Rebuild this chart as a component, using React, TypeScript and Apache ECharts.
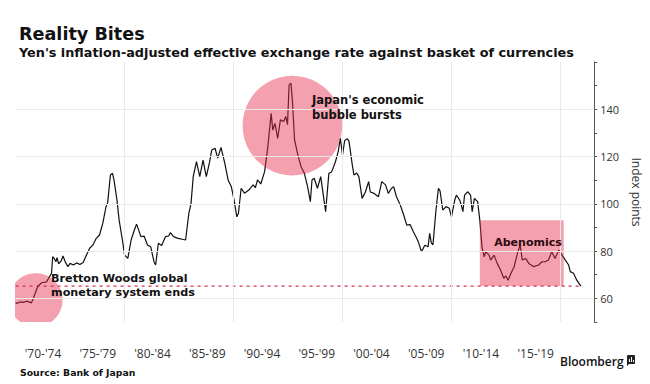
import React, { useEffect, useRef } from "react";
import * as echarts from "echarts";

// ---- Data ----
const years: number[] = [
  1970.0, 1970.15, 1970.4, 1970.7, 1971.0, 1971.15, 1971.45, 1971.6, 1971.85, 1972.05,
  1972.4, 1972.85, 1973.1, 1973.3, 1973.4, 1973.55, 1973.7, 1973.8, 1973.95, 1974.2,
  1974.35, 1974.6, 1974.8, 1975.0, 1975.3, 1975.6, 1975.9, 1976.2, 1976.5, 1976.8,
  1977.1, 1977.4, 1977.7, 1978.0, 1978.3, 1978.45, 1978.7, 1978.9, 1979.05, 1979.3,
  1979.5, 1979.8, 1980.0, 1980.3, 1980.6, 1980.9, 1981.1, 1981.4, 1981.5, 1981.8,
  1982.1, 1982.4, 1982.7, 1982.85, 1983.1, 1983.4, 1983.75, 1984.05, 1984.2, 1984.5,
  1984.9, 1985.3, 1985.6, 1985.9, 1986.1, 1986.3, 1986.6, 1986.9, 1987.2, 1987.5,
  1987.8, 1988.0, 1988.3, 1988.55, 1988.85, 1989.2, 1989.5, 1989.8, 1990.05, 1990.3,
  1990.45, 1990.7, 1991.0, 1991.4, 1991.8, 1992.0, 1992.2, 1992.5, 1992.85, 1993.15,
  1993.45, 1993.6, 1993.8, 1994.05, 1994.3, 1994.6, 1994.8, 1994.95, 1995.1, 1995.27,
  1995.4, 1995.6, 1995.9, 1996.2, 1996.5, 1996.8, 1997.05, 1997.2, 1997.4, 1997.7,
  1998.0, 1998.45, 1998.75, 1999.0, 1999.35, 1999.6, 1999.8, 2000.0, 2000.2, 2000.45,
  2000.6, 2000.9, 2001.05, 2001.3, 2001.5, 2001.8, 2002.1, 2002.4, 2002.55, 2002.9,
  2003.3, 2003.6, 2003.95, 2004.2, 2004.5, 2004.7, 2004.95, 2005.3, 2005.6, 2005.9,
  2006.2, 2006.5, 2006.8, 2006.95, 2007.25, 2007.55, 2007.85, 2008.0, 2008.15, 2008.3,
  2008.55, 2008.8, 2008.95, 2009.2, 2009.5, 2009.8, 2010.0, 2010.3, 2010.45, 2010.75,
  2010.9, 2011.05, 2011.2, 2011.5, 2011.75, 2011.9, 2012.1, 2012.4, 2012.6, 2012.8,
  2013.0, 2013.15, 2013.45, 2013.6, 2013.9, 2014.2, 2014.5, 2014.8, 2015.0, 2015.2,
  2015.4, 2015.75, 2016.05, 2016.3, 2016.5, 2016.8, 2017.1, 2017.55, 2018.0, 2018.3,
  2018.6, 2018.9, 2019.2, 2019.5, 2019.85, 2020.15, 2020.45, 2020.75, 2020.9, 2021.2,
  2021.5, 2021.8, 2021.9,
];

const indexValues: number[] = [
  58.2, 57.9, 58.5, 58.3, 58.8, 58.6, 58.1, 59.6, 62.8, 65.2,
  66.6, 67.0, 69.1, 70.6, 77.6, 76.8, 75.5, 77.2, 74.6, 76.0,
  77.9, 75.0, 73.4, 74.8, 74.1, 75.0, 74.3, 75.2, 78.3, 81.2,
  82.6, 85.4, 86.8, 91.7, 98.8, 100.5, 112.2, 112.9, 109.5, 101.6,
  93.1, 84.7, 78.3, 76.9, 84.7, 88.9, 91.4, 87.5, 86.1, 86.3,
  82.6, 81.8, 75.5, 74.1, 83.3, 82.4, 86.1, 86.4, 87.8, 86.1,
  85.4, 85.0, 84.7, 96.0, 100.2, 111.5, 117.8, 111.5, 118.5, 111.5,
  117.6, 122.8, 123.5, 119.3, 123.9, 117.1, 110.1, 107.2, 101.6, 94.5,
  96.0, 106.6, 104.5, 105.8, 108.0, 106.8, 110.1, 108.4, 113.6, 124.2,
  138.3, 131.2, 134.0, 127.7, 135.5, 134.8, 136.9, 133.5, 150.3, 151.0,
  143.9, 127.0, 120.7, 115.7, 112.9, 107.2, 100.9, 110.1, 110.8, 106.6,
  111.5, 96.7, 112.9, 113.5, 117.8, 122.0, 127.7, 120.7, 126.8, 127.5,
  126.3, 116.4, 112.2, 113.0, 111.5, 102.3, 105.0, 109.4, 105.0, 104.4,
  103.0, 109.4, 108.0, 104.4, 106.6, 107.2, 103.0, 99.5, 95.5, 91.0,
  91.2, 88.2, 85.5, 84.0, 79.7, 82.5, 81.8, 87.5, 83.5, 82.6,
  96.0, 106.6, 105.5, 97.4, 98.8, 98.1, 94.5, 101.6, 103.7, 101.6,
  99.5, 96.7, 103.7, 105.1, 103.7, 96.7, 102.3, 100.9, 93.1, 81.8,
  77.6, 79.7, 78.3, 76.2, 78.3, 74.8, 72.0, 68.5, 69.5, 67.7,
  70.0, 73.4, 79.0, 82.6, 76.2, 76.9, 74.8, 73.4, 74.1, 75.5,
  75.5, 76.2, 79.7, 76.9, 80.4, 78.3, 76.2, 74.1, 71.3, 70.6,
  67.7, 65.6, 65.2,
];

const periodLabels: string[] = [
  "'70-'74", "'75-'79", "'80-'84", "'85-'89", "'90-'94",
  "'95-'99", "'00-'04", "'05-'09", "'10-'14", "'15-'19",
];

const yTickLabels: number[] = [60, 80, 100, 120, 140];
const decadeLines: number[] = [1980, 1990, 2000, 2010, 2020];

// Bretton Woods reference level (dashed line)
const referenceYears: number[] = [1970, 2021.9];
const referenceLevel: number[] = [65.2, 65.2];

// Highlight circles: [center year, center value, radius in years]
const circleCenters: number[][] = [
  [1971.85, 59.3, 2.46],
  [1995.4, 133.1, 4.57],
];

// Abenomics box: [start year, top value, end year, bottom value]
const abenomicsBox: number[][] = [[2012.6, 93.1, 2020.3, 65.2]];

const X_MIN = 1970;
const X_MAX = 2023.1;

export default function App() {
  const ref = useRef<HTMLDivElement>(null);

  useEffect(() => {
    if (!ref.current) return;
    const chart = echarts.init(ref.current, undefined, { renderer: "svg" });

    const lineData = years.map((y, i) => [y, indexValues[i]]);
    const refData = referenceYears.map((y, i) => [y, referenceLevel[i]]);
    const highlightFill = "rgba(232,45,75,0.45)";
    const labelFont = "'Open Sans', 'DejaVu Sans', sans-serif";
    const boldFont = "'DejaVu Sans', sans-serif";

    const gridTop = 62;
    const gridBottom = 62;
    const gridLeft = 15.6;
    const gridRight = 53;
    const plotWidth = 650 - gridLeft - gridRight;
    const pxPerYear = plotWidth / (X_MAX - X_MIN);
    const catRight = 650 - (gridLeft + pxPerYear * (2020 - X_MIN));

    const option: any = {
      animation: false,
      backgroundColor: "#ffffff",
      grid: [
        { left: gridLeft, right: gridRight, top: gridTop, bottom: gridBottom, containLabel: false },
        { left: gridLeft, right: catRight, top: gridTop, bottom: gridBottom, containLabel: false },
      ],
      xAxis: [
        {
          type: "value",
          gridIndex: 0,
          min: X_MIN,
          max: X_MAX,
          show: false,
        },
        {
          type: "category",
          gridIndex: 1,
          data: periodLabels,
          boundaryGap: true,
          axisLine: { show: false },
          axisTick: { show: false },
          splitLine: { show: false },
          axisLabel: {
            margin: 25,
            fontSize: 12,
            fontFamily: labelFont,
            color: "#333",
            interval: 0,
          },
        },
      ],
      yAxis: [
        {
          type: "value",
          gridIndex: 0,
          position: "right",
          min: 50,
          max: 160,
          interval: 10,
          axisLine: { show: true, lineStyle: { color: "#555", width: 1 } },
          axisTick: { show: true, inside: false, length: 3, lineStyle: { color: "#555" } },
          splitLine: { show: false },
          axisLabel: {
            margin: 6,
            fontSize: 11,
            fontFamily: labelFont,
            color: "#333",
            formatter: (v: number) => (yTickLabels.indexOf(v) >= 0 ? String(v) : ""),
          },
          name: "Index points",
          nameLocation: "middle",
          nameRotate: -90,
          nameGap: 30,
          nameTextStyle: { fontSize: 12, fontFamily: labelFont, color: "#333" },
        },
        {
          type: "value",
          gridIndex: 1,
          min: 50,
          max: 160,
          show: false,
        },
      ],
      series: [
        {
          type: "line",
          name: "grid",
          xAxisIndex: 0,
          yAxisIndex: 0,
          data: [],
          z: 1,
          silent: true,
          markLine: {
            silent: true,
            symbol: "none",
            label: { show: false },
            lineStyle: { color: "#e9e9e9", type: "solid", width: 1 },
            data: [
              ...yTickLabels.map((v) => ({ yAxis: v })),
              ...decadeLines.map((x) => ({ xAxis: x })),
            ],
          },
        },
        {
          type: "line",
          name: "Bretton Woods level",
          xAxisIndex: 0,
          yAxisIndex: 0,
          data: refData,
          showSymbol: false,
          symbol: "none",
          z: 2,
          silent: true,
          lineStyle: { color: "#d6304f", width: 1.3, type: [3, 4] },
        },
        {
          type: "line",
          name: "REER",
          xAxisIndex: 0,
          yAxisIndex: 0,
          data: lineData,
          showSymbol: false,
          symbol: "none",
          z: 3,
          silent: true,
          lineStyle: { color: "#111", width: 1.2 },
        },
        {
          type: "custom",
          name: "circles",
          xAxisIndex: 0,
          yAxisIndex: 0,
          data: circleCenters,
          clip: true,
          z: 4,
          silent: true,
          encode: { x: 0, y: 1 },
          renderItem: (params: any, api: any) => {
            const c = api.coord([api.value(0), api.value(1)]);
            const r = api.size([api.value(2), 0])[0];
            return {
              type: "circle",
              shape: { cx: c[0], cy: c[1], r },
              style: { fill: highlightFill },
            };
          },
        },
        {
          type: "custom",
          name: "abenomics",
          xAxisIndex: 0,
          yAxisIndex: 0,
          data: abenomicsBox,
          z: 4,
          silent: true,
          encode: { x: [0, 2], y: [1, 3] },
          renderItem: (params: any, api: any) => {
            const p0 = api.coord([api.value(0), api.value(1)]);
            const p1 = api.coord([api.value(2), api.value(3)]);
            return {
              type: "rect",
              shape: { x: p0[0], y: p0[1], width: p1[0] - p0[0], height: p1[1] - p0[1] },
              style: { fill: highlightFill },
            };
          },
        },
      ],
      graphic: [
        {
          type: "text",
          x: 19,
          y: 33.5,
          style: {
            text: "Reality Bites",
            fontFamily: boldFont,
            fontWeight: "bold",
            fontSize: 17.6,
            fill: "#111",
            verticalAlign: "middle",
          },
        },
        {
          type: "text",
          x: 19,
          y: 52,
          style: {
            text: "Yen's inflation-adjusted effective exchange rate against basket of currencies",
            fontFamily: boldFont,
            fontWeight: "bold",
            fontSize: 12.8,
            fill: "#111",
            verticalAlign: "middle",
          },
        },
        {
          type: "text",
          x: 312,
          y: 107,
          z: 10,
          style: {
            text: "Japan's economic\nbubble bursts",
            fontFamily: boldFont,
            fontWeight: "bold",
            fontSize: 11.5,
            lineHeight: 15,
            fill: "#111",
            verticalAlign: "middle",
          },
        },
        {
          type: "text",
          x: 51,
          y: 285,
          z: 10,
          style: {
            text: "Bretton Woods global\nmonetary system ends",
            fontFamily: boldFont,
            fontWeight: "bold",
            fontSize: 11.2,
            lineHeight: 14,
            fill: "#111",
            verticalAlign: "middle",
          },
        },
        {
          type: "text",
          x: 528,
          y: 242,
          z: 10,
          style: {
            text: "Abenomics",
            fontFamily: boldFont,
            fontWeight: "bold",
            fontSize: 11,
            fill: "#2a0a10",
            align: "center",
            verticalAlign: "middle",
          },
        },
        {
          type: "text",
          x: 20,
          y: 372,
          style: {
            text: "Source: Bank of Japan",
            fontFamily: boldFont,
            fontWeight: "bold",
            fontSize: 9.3,
            fill: "#111",
            verticalAlign: "middle",
          },
        },
        {
          type: "text",
          x: 560,
          y: 361,
          style: {
            text: "Bloomberg",
            fontFamily: labelFont,
            fontWeight: 600,
            fontSize: 12,
            fill: "#111",
            verticalAlign: "middle",
          },
        },
        {
          type: "group",
          x: 627,
          y: 355,
          children: [
            { type: "rect", shape: { x: 0, y: 0, width: 8, height: 9, r: 1 }, style: { fill: "#222" } },
            { type: "polygon", shape: { points: [[0, 8], [3, 8], [0, 11]] }, style: { fill: "#222" } },
            { type: "rect", shape: { x: 2, y: 4, width: 1, height: 3 }, style: { fill: "#fff" } },
            { type: "rect", shape: { x: 4, y: 2, width: 1, height: 5 }, style: { fill: "#fff" } },
            { type: "rect", shape: { x: 6, y: 5, width: 1, height: 2 }, style: { fill: "#fff" } },
          ],
        },
      ],
    };

    chart.setOption(option);
    return () => {
      chart.dispose();
    };
  }, []);

  return (
    <div
      ref={ref}
      style={{ position: "fixed", left: 0, top: 0, width: 650, height: 384, background: "#fff" }}
    />
  );
}
